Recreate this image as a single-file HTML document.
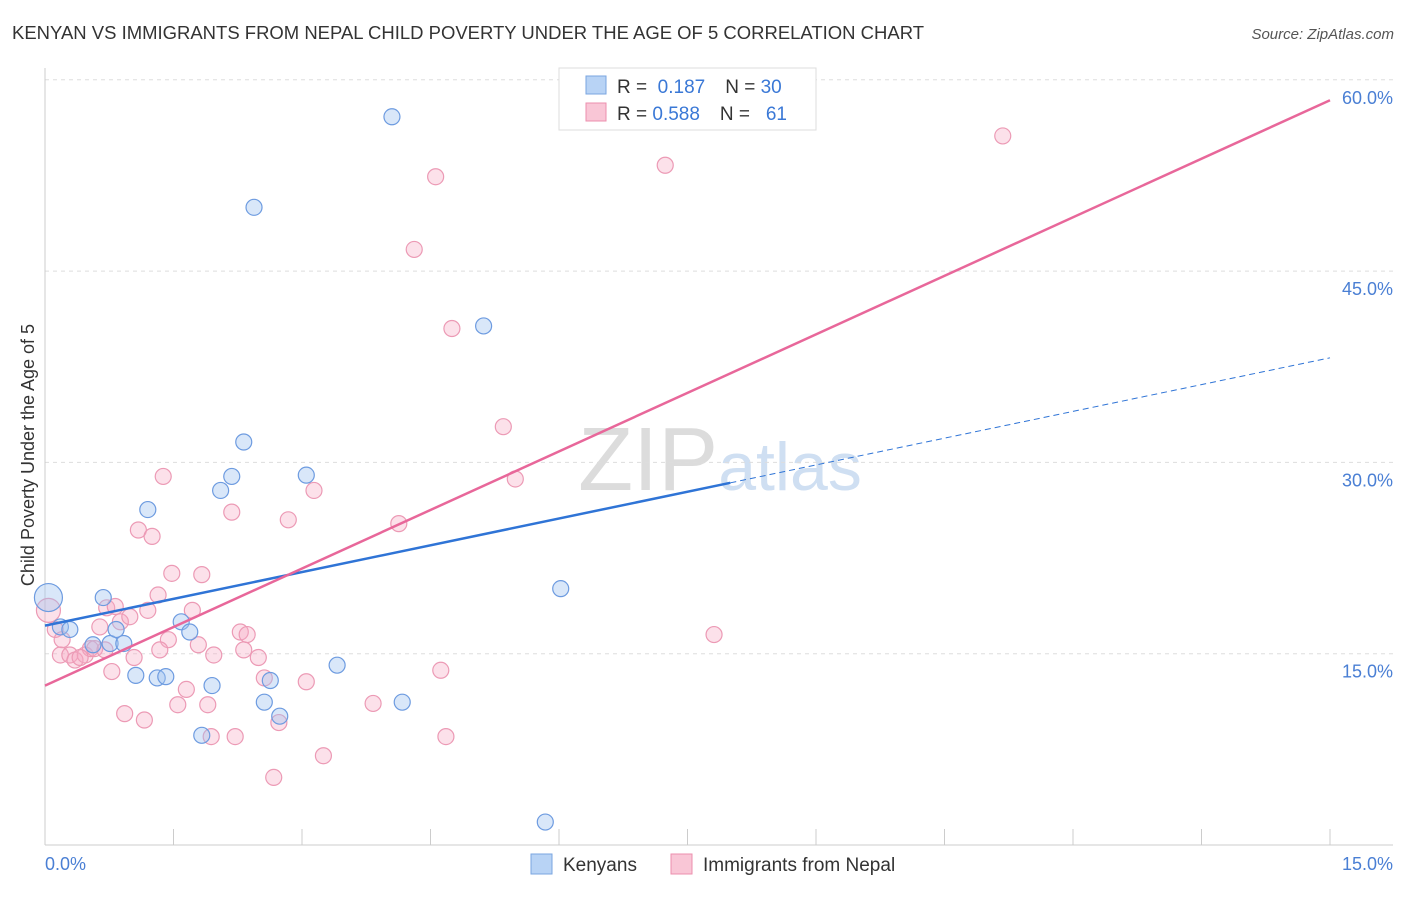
<!DOCTYPE html>
<html><head><meta charset="utf-8"><style>
body{margin:0;background:#fff;font-family:"Liberation Sans",sans-serif}
svg text{font-family:"Liberation Sans",sans-serif}
</style></head><body>
<svg id="chart" width="1406" height="892" viewBox="0 0 1406 892" xmlns="http://www.w3.org/2000/svg">
<text x="12" y="39" font-size="18" fill="#333" textLength="912" lengthAdjust="spacingAndGlyphs">KENYAN VS IMMIGRANTS FROM NEPAL CHILD POVERTY UNDER THE AGE OF 5 CORRELATION CHART</text>
<text x="1394" y="39" font-size="15" fill="#555" font-style="italic" text-anchor="end">Source: ZipAtlas.com</text>
<text x="720" y="490" font-size="90" fill="#d8d8d8" text-anchor="middle" font-family="Liberation Serif"><tspan fill="#dcdcdc">ZIP</tspan><tspan fill="#cfdff2" font-family="Liberation Sans" font-size="68">atlas</tspan></text>
<g id="grid"></g><g id="axes"></g><g id="marks"></g>
<text transform="translate(34,455) rotate(-90)" font-size="18" fill="#333" text-anchor="middle">Child Poverty Under the Age of 5</text>
<text x="45" y="870" font-size="18" fill="#4a7fd4">0.0%</text>
<text x="1393" y="870" font-size="18" fill="#4a7fd4" text-anchor="end">15.0%</text>
<g>
<rect x="559" y="68" width="257" height="62" fill="#fff" stroke="#ddd"/>
<rect x="586" y="76" width="20" height="18" fill="#b8d3f5" stroke="#7aa6e0"/>
<rect x="586" y="103" width="20" height="18" fill="#f9c6d6" stroke="#ec8fae"/>
<text x="617" y="93" font-size="19" fill="#333">R = <tspan fill="#3a78d6">&#160;0.187</tspan><tspan dx="20">N = </tspan><tspan fill="#3a78d6">30</tspan></text>
<text x="617" y="120" font-size="19" fill="#333">R = <tspan fill="#3a78d6">0.588</tspan><tspan dx="20">N = </tspan><tspan fill="#3a78d6">&#160;&#160;61</tspan></text>
</g>
<g>
<rect x="531" y="854" width="21" height="20" fill="#b8d3f5" stroke="#7aa6e0"/>
<text x="563" y="871" font-size="19" fill="#333">Kenyans</text>
<rect x="671" y="854" width="21" height="20" fill="#f9c6d6" stroke="#ec8fae"/>
<text x="703" y="871" font-size="19" fill="#333">Immigrants from Nepal</text>
</g>
</svg>
<script>
const yTicks=[15,30,45,60];
const yTickLabels=["15.0%","30.0%","45.0%","60.0%"];
const xTicks=[0,1.5,3,4.5,6,7.5,9,10.5,12,13.5,15];
const kenyanX=[0.04,0.18,0.29,0.68,0.76,0.83,0.92,1.06,1.20,1.31,1.41,1.59,1.69,1.83,1.95,2.05,2.18,2.32,2.44,2.56,2.63,2.74,3.05,3.41,4.05,4.17,5.12,5.84,6.02,0.56];
const kenyanY=[19.4,17.1,16.9,19.4,15.8,16.9,15.8,13.3,26.3,13.1,13.2,17.5,16.7,8.6,12.5,27.8,28.9,31.6,50.0,11.2,12.9,10.1,29.0,14.1,57.1,11.2,40.7,1.8,20.1,15.7];
const nepalX=[0.04,0.12,0.18,0.29,0.35,0.47,0.53,0.58,0.64,0.72,0.78,0.82,0.88,0.93,0.99,1.04,1.09,1.16,1.20,1.25,1.32,1.38,1.44,1.48,1.55,1.65,1.72,1.79,1.83,1.90,1.94,1.97,2.18,2.22,2.28,2.32,2.36,2.49,2.56,2.67,2.73,2.84,3.05,3.14,3.25,3.83,4.13,4.31,4.56,4.62,4.68,4.75,5.35,5.49,7.24,7.81,11.18,0.20,0.41,0.70,1.34];
const nepalY=[18.4,16.9,14.9,14.9,14.5,14.9,15.4,15.4,17.1,18.6,13.6,18.7,17.5,10.3,17.9,14.7,24.7,9.8,18.4,24.2,19.6,28.9,16.1,21.3,11.0,12.2,18.4,15.7,21.2,11.0,8.5,14.9,26.1,8.5,16.7,15.3,16.5,14.7,13.1,5.3,9.6,25.5,12.8,27.8,7.0,11.1,25.2,46.7,52.4,13.7,8.5,40.5,32.8,28.7,53.3,16.5,55.6,16.1,14.7,15.3,15.3];
const kenyanTrend=[17.2,38.2];
const nepalTrend=[12.5,58.4];
const kenyanSolidEnd=8.0;

const NS="http://www.w3.org/2000/svg";
const X=v=>45+v*(1285/15);
const Y=v=>845-v*(191.3/15);
function mk(tag,attrs,parent){const e=document.createElementNS(NS,tag);for(const k in attrs)e.setAttribute(k,attrs[k]);document.getElementById(parent).appendChild(e);return e;}
yTicks.forEach((t,i)=>{
 const g=mk('line',{x1:45,x2:1393,y1:Y(t),y2:Y(t),stroke:'#ddd','stroke-dasharray':'4,4'},'grid');
 
 
 const l=mk('text',{x:1393,y:Y(t)+24,'font-size':18,fill:'#4a7fd4','text-anchor':'end'},'grid');
 l.textContent=yTickLabels[i];
 
 
});
const xa=mk('line',{x1:45,x2:1393,y1:845,y2:845,stroke:'#ccc'},'axes');


const ya=mk('line',{x1:45,x2:45,y1:68,y2:845,stroke:'#ccc'},'axes');


xTicks.forEach(t=>{
 const tk=mk('line',{x1:X(t),x2:X(t),y1:829,y2:845,stroke:'#ccc'},'axes');
 
 
});
nepalX.forEach((x,i)=>{
 const c=mk('circle',{cx:X(x),cy:Y(nepalY[i]),r:i===0?12:8,fill:'rgba(246,170,195,0.35)',stroke:'#ec9ab5','stroke-width':1.2},'marks');
 
 
});
kenyanX.forEach((x,i)=>{
 const c=mk('circle',{cx:X(x),cy:Y(kenyanY[i]),r:i===0?14:8,fill:'rgba(160,195,240,0.4)',stroke:'#6d9be0','stroke-width':1.2},'marks');
 
 
});
const kAt=x=>kenyanTrend[0]+(kenyanTrend[1]-kenyanTrend[0])*x/15;
const kb=mk('line',{x1:X(0),y1:Y(kAt(0)),x2:X(kenyanSolidEnd),y2:Y(kAt(kenyanSolidEnd)),stroke:'#2f74d6','stroke-width':2.5},'marks');


const kd=mk('line',{x1:X(kenyanSolidEnd),y1:Y(kAt(kenyanSolidEnd)),x2:X(15),y2:Y(kAt(15)),stroke:'#2f74d6','stroke-width':1,'stroke-dasharray':'6,4'},'marks');


const np=mk('line',{x1:X(0),y1:Y(nepalTrend[0]),x2:X(15),y2:Y(nepalTrend[1]),stroke:'#e8679a','stroke-width':2.5},'marks');


</script>
</body></html>
